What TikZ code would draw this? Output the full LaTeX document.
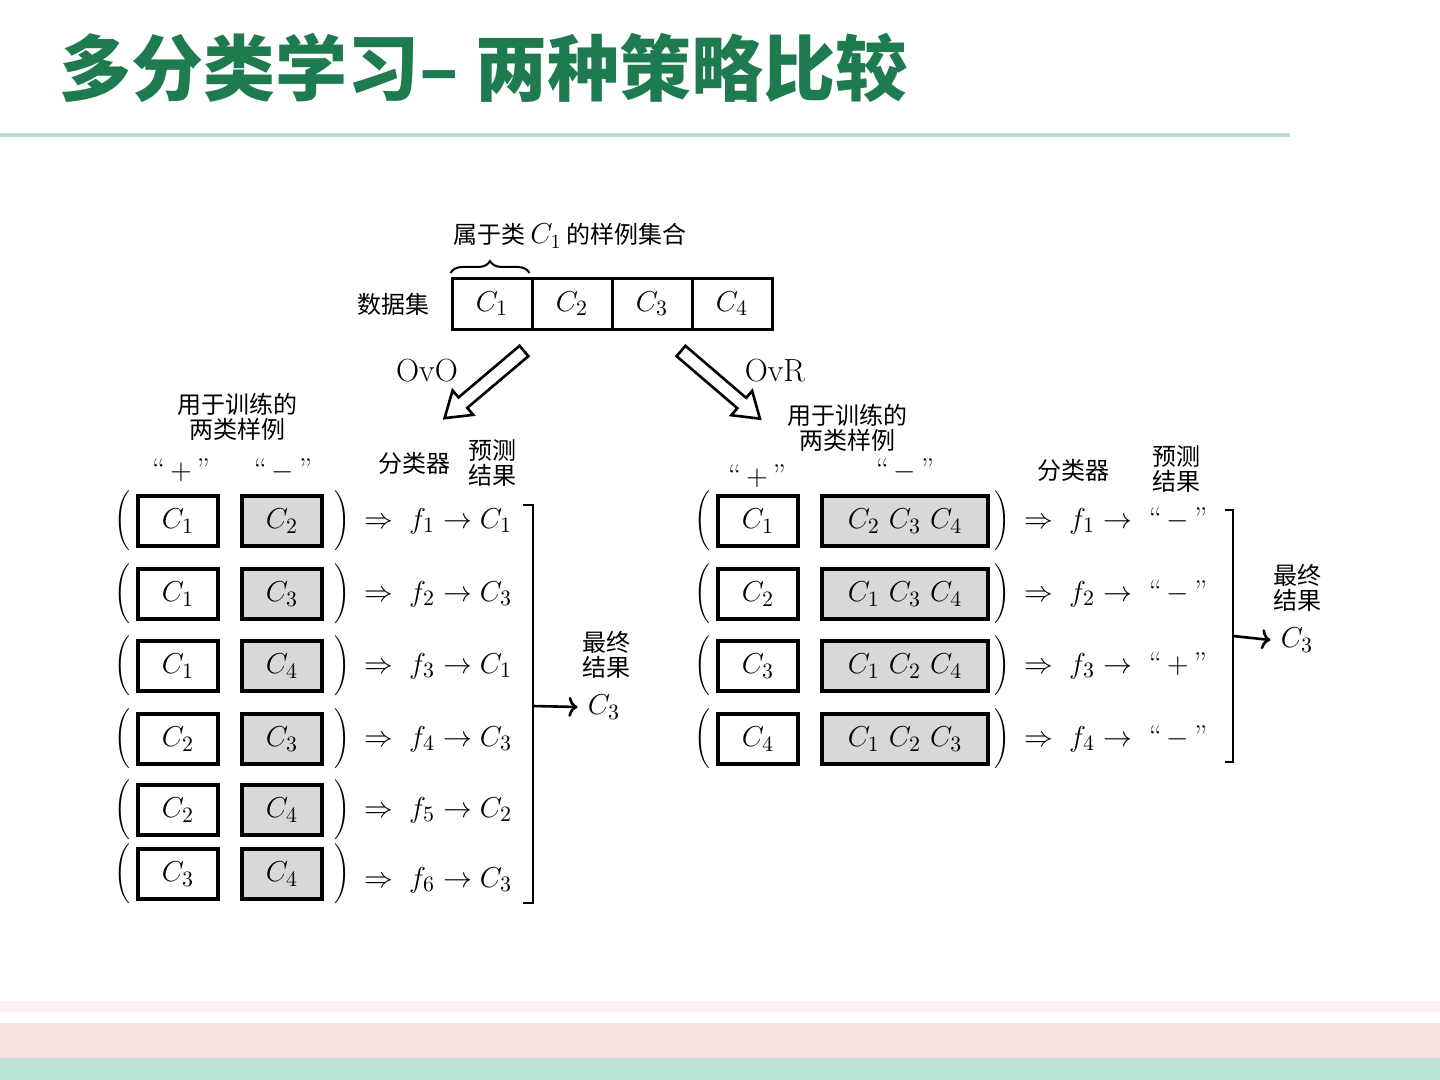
\documentclass[tikz,border=0pt]{standalone}
\usepackage{fontspec}
\newfontfamily\cjk{Noto Sans CJK SC}
\usetikzlibrary{arrows.meta,decorations.pathreplacing}

\definecolor{titlegreen}{HTML}{1D7B4F}
\definecolor{rulegreen}{HTML}{B7E0D0}
\definecolor{bandpink}{HTML}{FAE1E2}
\definecolor{bandgreen}{HTML}{B8E2D2}
\definecolor{negfill}{HTML}{D8D8D8}

\tikzset{
  cell/.style={draw, line width=1.5pt, minimum width=40pt, minimum height=25.5pt, inner sep=0pt, font=\fontsize{15}{17}\selectfont},
  posbox/.style={draw, line width=1.8pt, minimum width=40pt, minimum height=25pt, inner sep=0pt, font=\fontsize{15}{17}\selectfont},
  negbox/.style={posbox, fill=negfill},
  cjklabel/.style={font=\cjk\fontsize{12}{12.5}\selectfont, align=center, inner sep=0pt},
  sign/.style={font=\fontsize{15}{17}\selectfont, inner sep=0pt},
  paren/.style={font=\fontsize{10}{12}\selectfont, inner sep=0pt},
  expr/.style={font=\fontsize{15}{17}\selectfont, anchor=west, inner sep=0pt},
  hollowtip/.style={draw, line width=1.3pt, fill=white, line join=miter},
  result/.style={line width=1.3pt, -{To[length=4.5pt,width=10pt]}},
}

\begin{document}
\begin{tikzpicture}[x=0.5pt, y=-0.5pt]
    \useasboundingbox (0,0) rectangle (1440,1080);

    % title and page bands
    \node[anchor=west, text=titlegreen, font=\cjk\bfseries\fontsize{36}{40}\selectfont] (title) at (52,68) {多分类学习– 两种策略比较};
    \draw[rulegreen, line width=2pt] (0,135) -- (1290,135);
    \fill[bandpink!45] (0,1001) rectangle (1440,1012);
    \fill[bandpink] (0,1023) rectangle (1440,1058);
    \fill[bandgreen] (0,1058) rectangle (1440,1080);

    % data set
    \node[cjklabel] (dslabel) at (393,304) {数据集};
    \node[cell] (d1) at (492,304) {$C_1$};
    \node[cell] (d2) at (572,304) {$C_2$};
    \node[cell] (d3) at (652,304) {$C_3$};
    \node[cell] (d4) at (732,304) {$C_4$};
    \draw[line width=1pt, decorate, decoration={brace, amplitude=6pt}]
        ([yshift=2pt]d1.north west) -- ([yshift=2pt,xshift=-2pt]d1.north east);
    \node[cjklabel] (bracelabel) at (570,236) {属于类 {\fontsize{14}{16}\selectfont$C_1$} 的样例集合};

    % the two strategies (hollow arrows)
    \coordinate (ovofrom) at (524,351);
    \coordinate (ovrfrom) at (681,351);
    \begin{scope}[shift={(ovofrom)}, rotate=220.2]
        \draw[hollowtip] (0pt,3.4pt) -- (40pt,3.4pt) -- (40pt,8pt) -- (52pt,0pt)
            -- (40pt,-8pt) -- (40pt,-3.4pt) -- (0pt,-3.4pt) -- cycle;
    \end{scope}
    \begin{scope}[shift={(ovrfrom)}, rotate=-40.6]
        \draw[hollowtip] (0pt,3.4pt) -- (40pt,3.4pt) -- (40pt,8pt) -- (52pt,0pt)
            -- (40pt,-8pt) -- (40pt,-3.4pt) -- (0pt,-3.4pt) -- cycle;
    \end{scope}
    \node[font=\fontsize{16}{18}\selectfont] (ovo) at (427,371) {OvO};
    \node[font=\fontsize{16}{18}\selectfont] (ovr) at (775,371) {OvR};

    % OvO panel
    \node[cjklabel] (lhead) at (237,417) {用于训练的\\两类样例};
    \node[sign] (lplus) at (181,470) {``\,$+$\,''};
    \node[sign] (lminus) at (283,470) {``\,$-$\,''};
    \node[cjklabel] (lcls) at (414,463) {分类器};
    \node[cjklabel] (lpred) at (492,463) {预测\\结果};

    \node[paren] (lo1) at (122,521) {$\Bigg($};
    \node[posbox] (lp1) at (178,521) {$C_1$};
    \node[negbox] (ln1) at (282,521) {$C_2$};
    \node[paren] (lc1) at (342,521) {$\Bigg)$};
    \node[expr] (le1) at (364,521) {$\Rightarrow\; f_1 \rightarrow C_1$};

    \node[paren] (lo2) at (122,594) {$\Bigg($};
    \node[posbox] (lp2) at (178,594) {$C_1$};
    \node[negbox] (ln2) at (282,594) {$C_3$};
    \node[paren] (lc2) at (342,594) {$\Bigg)$};
    \node[expr] (le2) at (364,594) {$\Rightarrow\; f_2 \rightarrow C_3$};

    \node[paren] (lo3) at (122,666) {$\Bigg($};
    \node[posbox] (lp3) at (178,666) {$C_1$};
    \node[negbox] (ln3) at (282,666) {$C_4$};
    \node[paren] (lc3) at (342,666) {$\Bigg)$};
    \node[expr] (le3) at (364,666) {$\Rightarrow\; f_3 \rightarrow C_1$};

    \node[paren] (lo4) at (122,739) {$\Bigg($};
    \node[posbox] (lp4) at (178,739) {$C_2$};
    \node[negbox] (ln4) at (282,739) {$C_3$};
    \node[paren] (lc4) at (342,739) {$\Bigg)$};
    \node[expr] (le4) at (364,739) {$\Rightarrow\; f_4 \rightarrow C_3$};

    \node[paren] (lo5) at (122,810) {$\Bigg($};
    \node[posbox] (lp5) at (178,810) {$C_2$};
    \node[negbox] (ln5) at (282,810) {$C_4$};
    \node[paren] (lc5) at (342,810) {$\Bigg)$};
    \node[expr] (le5) at (364,810) {$\Rightarrow\; f_5 \rightarrow C_2$};

    \node[paren] (lo6) at (122,874) {$\Bigg($};
    \node[posbox] (lp6) at (178,874) {$C_3$};
    \node[negbox] (ln6) at (282,874) {$C_4$};
    \node[paren] (lc6) at (342,874) {$\Bigg)$};
    \node[expr] (le6) at (364,880) {$\Rightarrow\; f_6 \rightarrow C_3$};

    \coordinate (lbtop) at (533,505);
    \coordinate (lbbot) at (533,903);
    \coordinate (lbmid) at (533,706);
    \draw[line width=1pt] ([xshift=-5pt]lbtop) -- (lbtop) -- (lbbot) -- ([xshift=-5pt]lbbot);
    \node[cjklabel] (lfinal) at (606,655) {最终\\结果};
    \node[font=\fontsize{15}{17}\selectfont, inner sep=1pt] (lres) at (604,707) {$C_3$};
    \draw[result] (lbmid) -- ([xshift=-4pt]lres.west);

    % OvR panel
    \node[cjklabel] (rhead) at (847,428) {用于训练的\\两类样例};
    \node[sign] (rplus) at (757,476) {``\,$+$\,''};
    \node[sign] (rminus) at (905,470) {``\,$-$\,''};
    \node[cjklabel] (rcls) at (1073,470) {分类器};
    \node[cjklabel] (rpred) at (1176,469) {预测\\结果};

    \node[paren] (ro1) at (702,521) {$\Bigg($};
    \node[posbox] (rp1) at (758,521) {$C_1$};
    \node[negbox, minimum width=83pt] (rn1) at (905,521) {$C_2\ C_3\ C_4$};
    \node[paren] (rc1) at (1002,521) {$\Bigg)$};
    \node[expr] (re1) at (1024,521) {$\Rightarrow\; f_1 \rightarrow\;$ ``\,$-$\,''};

    \node[paren] (ro2) at (702,594) {$\Bigg($};
    \node[posbox] (rp2) at (758,594) {$C_2$};
    \node[negbox, minimum width=83pt] (rn2) at (905,594) {$C_1\ C_3\ C_4$};
    \node[paren] (rc2) at (1002,594) {$\Bigg)$};
    \node[expr] (re2) at (1024,594) {$\Rightarrow\; f_2 \rightarrow\;$ ``\,$-$\,''};

    \node[paren] (ro3) at (702,666) {$\Bigg($};
    \node[posbox] (rp3) at (758,666) {$C_3$};
    \node[negbox, minimum width=83pt] (rn3) at (905,666) {$C_1\ C_2\ C_4$};
    \node[paren] (rc3) at (1002,666) {$\Bigg)$};
    \node[expr] (re3) at (1024,666) {$\Rightarrow\; f_3 \rightarrow\;$ ``\,$+$\,''};

    \node[paren] (ro4) at (702,739) {$\Bigg($};
    \node[posbox] (rp4) at (758,739) {$C_4$};
    \node[negbox, minimum width=83pt] (rn4) at (905,739) {$C_1\ C_2\ C_3$};
    \node[paren] (rc4) at (1002,739) {$\Bigg)$};
    \node[expr] (re4) at (1024,739) {$\Rightarrow\; f_4 \rightarrow\;$ ``\,$-$\,''};

    \coordinate (rbtop) at (1233,510);
    \coordinate (rbbot) at (1233,762);
    \coordinate (rbmid) at (1233,636);
    \draw[line width=1pt] ([xshift=-4pt]rbtop) -- (rbtop) -- (rbbot) -- ([xshift=-4pt]rbbot);
    \node[cjklabel] (rfinal) at (1297,588) {最终\\结果};
    \node[font=\fontsize{15}{17}\selectfont, inner sep=1pt] (rres) at (1297,640) {$C_3$};
    \draw[result] (rbmid) -- ([xshift=-4pt]rres.west);
\end{tikzpicture}
\end{document}
